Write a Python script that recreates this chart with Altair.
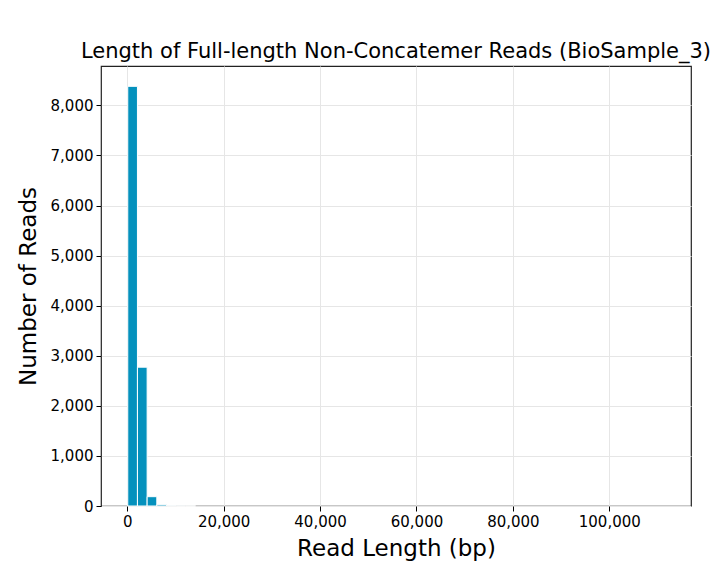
import altair as alt
import pandas as pd

bin_start = [100, 2110, 4120, 6130, 8140, 10150, 12160]
bin_end = [2110, 4120, 6130, 8140, 10150, 12160, 14170]
counts = [8380, 2772, 186, 26, 6, 2, 1]

df = pd.DataFrame({"start": bin_start, "end": bin_end, "count": counts})

font = "DejaVu Sans"

chart = alt.Chart(df).mark_rect(
    color="#0491BD", stroke="white", strokeWidth=1
).encode(
    x=alt.X("start:Q",
            scale=alt.Scale(domain=[-5450, 116950], nice=False, zero=False),
            axis=alt.Axis(title="Read Length (bp)", values=[0, 20000, 40000, 60000, 80000, 100000],
                          format=",.0f", titleY=42, titleBaseline="middle")),
    x2="end:Q",
    y=alt.Y("count:Q",
            scale=alt.Scale(domain=[0, 8786], nice=False),
            axis=alt.Axis(title="Number of Reads", values=list(range(0, 9000, 1000)),
                          format=",.0f", titleX=-73, titleY=220, titleBaseline="middle")),
    y2=alt.datum(0),
).properties(
    width=590, height=440,
    title=alt.TitleParams("Length of Full-length Non-Concatemer Reads (BioSample_3)",
                          font=font, fontSize=21, fontWeight="normal", color="black", offset=4),
    autosize=alt.AutoSizeParams(type="none"),
    padding={"left": 93, "top": 58, "right": 24, "bottom": 60},
).configure_axis(
    labelFont=font, titleFont=font, labelFontSize=15, titleFontSize=23,
    titleFontWeight="normal", labelColor="black", titleColor="black",
    grid=True, gridColor="#e6e6e6", domain=False, tickColor="black",
    tickSize=5, labelPadding=3,
).configure_view(
    stroke="#222222", strokeWidth=1.2
)

chart.save("out.html", embed_options={"renderer": "svg", "actions": False})
